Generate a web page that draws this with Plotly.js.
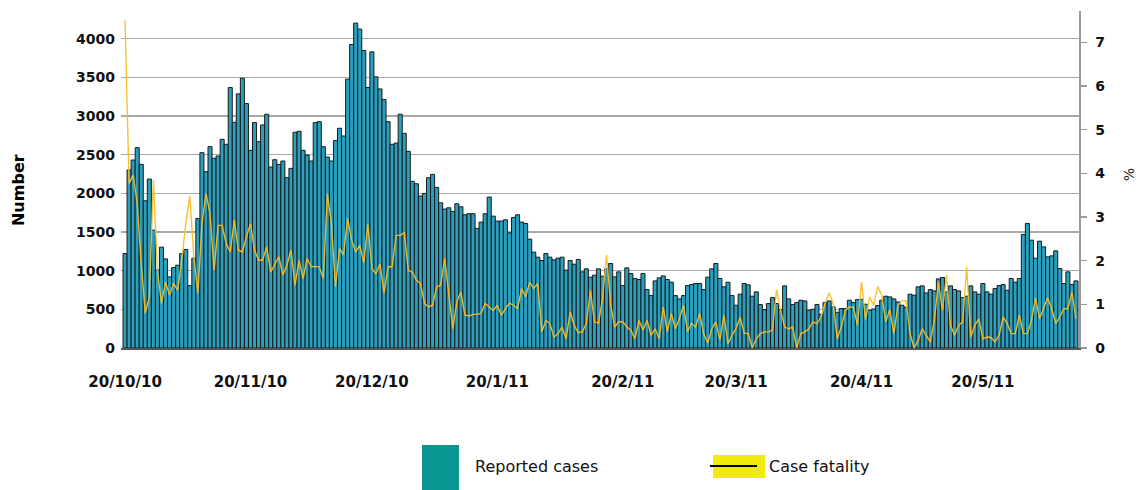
<!DOCTYPE html>
<html>
<head>
<meta charset="utf-8">
<script src="https://cdn.plot.ly/plotly-3.0.1.min.js"></script>
<style>html,body{margin:0;padding:0;background:#fff;}#chart{width:1138px;height:490px;}</style>
</head>
<body>
<div id="chart"></div>
<script>
// Daily series starting 20/10/10
const startDate = '2010-10-20';

const reportedCases = [
1222,2303,2432,2592,2376,1905,2186,1525,1011,1305,1153,920,1041,1071,1222,1274,808,1162,1676,2527,
2281,2605,2454,2484,2700,2635,3370,2920,3288,3490,3162,2557,2916,2670,2886,3024,2341,2436,2376,2419,
2203,2324,2791,2804,2557,2497,2419,2916,2929,2605,2471,2419,2683,2843,2743,3478,3927,4203,4126,3849,
3370,3832,3508,3352,3214,2929,2635,2652,3024,2778,2544,2156,2125,1966,2000,2203,2246,2078,1879,1797,
1814,1767,1866,1827,1724,1737,1737,1547,1629,1737,1953,1706,1642,1642,1659,1490,1689,1724,1629,1611,
1408,1240,1175,1132,1222,1175,1140,1162,1175,1007,1132,1084,1145,985,1024,916,942,1024,929,1024,
1093,920,985,808,1037,963,899,886,963,756,678,868,907,933,886,851,678,635,678,808,
821,834,834,756,916,1024,1093,899,791,851,678,553,696,834,817,670,726,562,497,575,
652,575,497,804,635,562,588,618,609,488,501,562,436,588,609,531,462,510,510,618,
588,626,630,566,488,505,549,618,670,661,635,596,553,527,696,683,791,804,713,756,
739,894,912,726,804,756,739,652,670,804,726,696,834,726,696,769,808,821,747,899,
851,899,1469,1611,1395,1162,1382,1309,1179,1192,1257,1028,834,985,821,868
];

const caseFatality = [
7.5,3.77,3.96,3.31,1.93,0.79,1.17,3.85,1.78,1.02,1.51,1.21,1.48,1.32,2.0,2.85,3.48,2.09,1.25,2.85,
3.54,3.08,1.78,2.81,2.81,2.39,2.2,2.93,2.24,2.2,2.55,2.85,2.24,2.01,2.01,2.32,1.74,1.93,2.09,1.67,
1.9,2.24,1.44,2.01,1.59,2.05,1.86,1.87,1.86,1.59,3.54,2.85,1.4,2.28,2.13,2.97,2.47,2.2,2.35,1.95,
2.85,1.82,1.7,1.93,1.25,1.86,1.86,2.58,2.58,2.64,1.78,1.74,1.55,1.48,1.02,0.94,0.98,1.4,1.44,2.05,
1.25,0.44,1.06,1.28,0.75,0.73,0.77,0.77,0.79,1.02,0.94,0.86,0.98,0.75,0.9,1.03,0.98,0.9,1.36,1.17,
1.51,1.36,1.48,0.37,0.63,0.56,0.25,0.33,0.48,0.21,0.83,0.52,0.35,0.37,0.56,1.32,0.6,0.57,1.13,2.13,
1.0,0.48,0.6,0.6,0.48,0.41,0.21,0.63,0.41,0.63,0.29,0.44,0.21,0.94,0.37,0.79,0.44,0.67,0.98,0.37,
0.56,0.48,0.79,0.33,0.11,0.44,0.6,0.18,0.75,0.1,0.29,0.45,0.7,0.34,0.33,0.0,0.21,0.33,0.37,0.37,
0.41,1.34,0.86,0.48,0.44,0.48,0.0,0.33,0.37,0.44,0.6,0.56,0.71,1.02,1.26,1.02,0.21,0.48,0.86,0.94,
0.94,0.52,1.51,0.65,1.17,0.98,1.41,1.21,0.6,0.88,0.33,0.98,1.08,1.09,0.33,0.0,0.18,0.44,0.29,0.14,
0.63,1.51,0.86,1.67,0.52,0.29,0.52,0.6,1.86,0.25,0.52,0.67,0.21,0.25,0.24,0.14,0.29,0.71,0.56,0.33,
0.33,0.75,0.33,0.33,0.63,1.15,0.67,0.9,1.15,0.9,0.56,0.71,0.9,0.9,1.28,0.67
];

const tickDates = ['2010-10-20','2010-11-20','2010-12-20','2011-01-20','2011-02-20','2011-03-20','2011-04-20','2011-05-20'];
const tickLabels = ['20/10/10','20/11/10','20/12/10','20/1/11','20/2/11','20/3/11','20/4/11','20/5/11'];
const leftTicks = [0,500,1000,1500,2000,2500,3000,3500,4000];
const rightTicks = [0,1,2,3,4,5,6,7];

// build day sequence
const dates = [];
const d0 = new Date(startDate + 'T00:00:00Z');
for (let i = 0; i < reportedCases.length; i++) {
  const d = new Date(d0.getTime() + i * 86400000);
  dates.push(d.toISOString().slice(0, 10));
}

const FONT = 'DejaVu Sans, Verdana, sans-serif';

const traces = [
  {
    type: 'bar', x: dates, y: reportedCases, name: 'Reported cases',
    marker: {color: '#2a9fbe', line: {color: '#1a1a1a', width: 1}},
    yaxis: 'y', showlegend: false, hoverinfo: 'x+y'
  },
  {
    type: 'scatter', mode: 'lines', x: dates, y: caseFatality, name: 'Case fatality',
    line: {color: 'rgba(247,190,40,0.95)', width: 1.4},
    yaxis: 'y2', showlegend: false, cliponaxis: true
  }
];

const layout = {
  width: 1138, height: 490,
  margin: {l: 121, r: 59, t: 11, b: 142},
  paper_bgcolor: '#ffffff', plot_bgcolor: '#ffffff',
  bargap: 0,
  showlegend: false,
  xaxis: {
    type: 'date',
    range: ['2010-10-19 00:00', '2011-06-12 18:00'],
    tickmode: 'array', tickvals: tickDates, ticktext: tickLabels,
    tickfont: {family: FONT, size: 15, color: '#111', weight: 'bold'},
    ticks: '', showgrid: false, zeroline: false,
    showline: true, linecolor: '#555555', linewidth: 2,
    ticklabelstandoff: 19
  },
  yaxis: {
    range: [0, 4360],
    tickmode: 'array', tickvals: leftTicks,
    tickfont: {family: FONT, size: 14, color: '#111', weight: 'bold'},
    showgrid: true, gridcolor: '#a8a8a8', gridwidth: 1.3,
    zeroline: false, showline: false, ticks: '',
    ticklabelstandoff: 5
  },
  yaxis2: {
    overlaying: 'y', side: 'right',
    range: [0, 7.72],
    tickmode: 'array', tickvals: rightTicks,
    tickfont: {family: FONT, size: 14, color: '#111', weight: 'bold'},
    showgrid: false, zeroline: false,
    showline: true, linecolor: '#9a9a9a', linewidth: 1.5,
    ticks: 'outside', ticklen: 6, tickcolor: '#9a9a9a', tickwidth: 1.5,
    ticklabelstandoff: 6
  },
  shapes: [
    {type: 'rect', xref: 'paper', yref: 'paper', x0: 0.3142, x1: 0.3528, y0: -0.4214, y1: -0.2878,
     fillcolor: '#0a9690', line: {width: 0}},
    {type: 'rect', xref: 'paper', yref: 'paper', x0: 0.6180, x1: 0.6722, y0: -0.3858, y1: -0.3175,
     fillcolor: '#f2ea0f', line: {width: 0}},
    {type: 'line', xref: 'paper', yref: 'paper', x0: 0.6148, x1: 0.6639, y0: -0.3501, y1: -0.3501,
     line: {color: '#000000', width: 2}}
  ],
  annotations: [
    {text: 'Number', xref: 'paper', yref: 'paper', x: -0.1075, y: 0.4688, showarrow: false,
     textangle: -90, font: {family: FONT, size: 16, color: '#000', weight: 'bold'}, xanchor: 'center', yanchor: 'middle'},
    {text: '%', xref: 'paper', yref: 'paper', x: 1.0525, y: 0.5134, showarrow: false,
     textangle: -90, font: {family: FONT, size: 14, color: '#222'}, xanchor: 'center', yanchor: 'middle'},
    {text: 'Reported cases', xref: 'paper', yref: 'paper', x: 0.3674, y: -0.3531, showarrow: false,
     xanchor: 'left', yanchor: 'middle', font: {family: FONT, size: 16, color: '#111'}},
    {text: 'Case fatality', xref: 'paper', yref: 'paper', x: 0.6743, y: -0.3531, showarrow: false,
     xanchor: 'left', yanchor: 'middle', font: {family: FONT, size: 16, color: '#111'}}
  ]
};

Plotly.newPlot('chart', traces, layout, {displayModeBar: false, staticPlot: true});
</script>
</body>
</html>
